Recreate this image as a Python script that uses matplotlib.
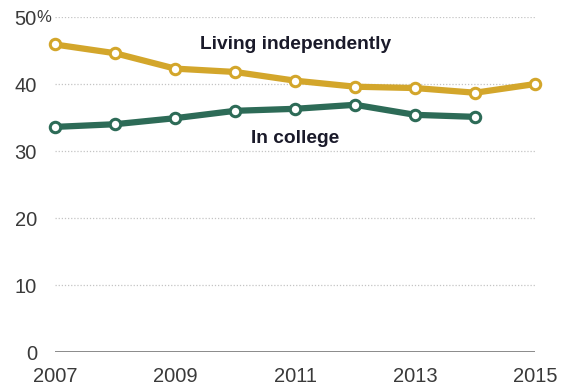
import matplotlib
matplotlib.use("Agg")
import matplotlib.pyplot as plt

plt.rcParams["font.family"] = ["Liberation Sans", "DejaVu Sans"]

years = [2007, 2008, 2009, 2010, 2011, 2012, 2013, 2014, 2015]
living_indep = [45.9, 44.6, 42.3, 41.8, 40.5, 39.6, 39.4, 38.7, 40.0]
college_years = [2007, 2008, 2009, 2010, 2011, 2012, 2013, 2014]
in_college = [33.6, 34.0, 34.9, 36.0, 36.3, 36.9, 35.4, 35.1]

y_ticks = [0, 10, 20, 30, 40, 50]
x_ticks = [2007, 2009, 2011, 2013, 2015]

gold = "#d3a62b"
green = "#2d6b57"

fig = plt.figure(figsize=(5.61, 3.87), dpi=100)
ax = fig.add_axes([0.098, 0.0904, 0.856, 0.8656])

for x, y, c in [(years, living_indep, gold), (college_years, in_college, green)]:
    ax.plot(x, y, color=c, lw=4.5, marker="o", ms=7.5, mfc="white",
            mec=c, mew=2.2, clip_on=False, zorder=3)

ax.set_xlim(2007, 2015)
ax.set_ylim(0, 50)

for v in y_ticks[1:]:
    ax.axhline(v, color="#c4c4c4", lw=0.9, ls=(0, (1, 1.5)), zorder=1)
ax.axhline(0, color="#777777", lw=1.2, zorder=2)

ax.set_yticks(y_ticks)
ax.set_xticks(x_ticks)
ax.tick_params(length=0, labelsize=14.5, labelcolor="#3a3a3a")
ax.tick_params(axis="y", pad=13)
ax.tick_params(axis="x", pad=11)
for s in ax.spines.values():
    s.set_visible(False)

ax.text(-0.038, 1.0, "%", transform=ax.transAxes, fontsize=12,
        color="#3a3a3a", ha="left", va="center")

ax.text(2011.0, 45.9, "Living independently", fontsize=13.8, fontweight="bold",
        color="#1a1a2a", ha="center", va="center")
ax.text(2011.0, 31.9, "In college", fontsize=13.8, fontweight="bold",
        color="#1a1a2a", ha="center", va="center")

fig.savefig("out.png", dpi=100)
